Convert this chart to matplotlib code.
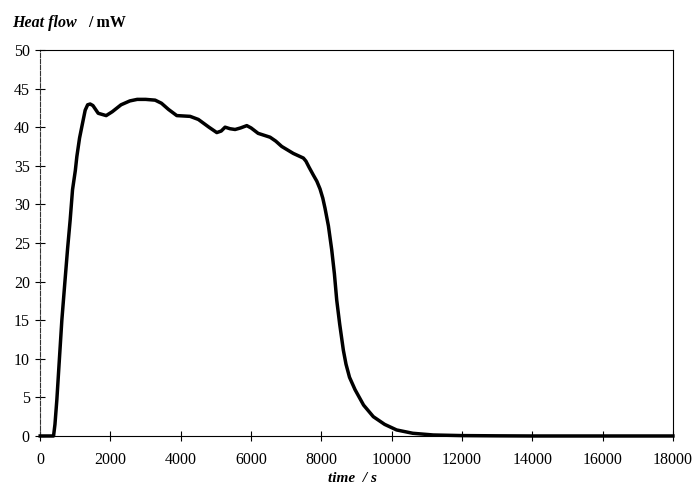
import matplotlib.pyplot as plt

# values
time_s = [0, 380, 420, 474, 540, 616, 700, 780, 853, 920, 1000, 1043, 1120, 1204, 1280,
          1350, 1422, 1500, 1650, 1877, 2050, 2300, 2550, 2760, 3000, 3270, 3450, 3650,
          3886, 4265, 4500, 4800, 5024, 5150, 5260, 5400, 5545, 5700, 5877, 6000, 6200,
          6540, 6700, 6872, 7200, 7487, 7560, 7650, 7770, 7870, 7961, 8040, 8103, 8200,
          8294, 8370, 8436, 8520, 8625, 8700, 8800, 8957, 9200, 9477, 9800, 10140, 10600,
          11180, 12000, 13000, 14000, 16000, 18000]
heat_mw = [0, 0, 1.5, 4.7, 9.5, 15.0, 19.8, 24.3, 28.0, 31.9, 34.4, 36.2, 38.6, 40.5, 42.2,
           42.9, 43.0, 42.8, 41.8, 41.5, 42.0, 42.9, 43.4, 43.6, 43.6, 43.5, 43.1, 42.3,
           41.5, 41.4, 41.0, 40.0, 39.3, 39.5, 40.0, 39.8, 39.7, 39.9, 40.2, 39.9, 39.2,
           38.7, 38.2, 37.5, 36.6, 36.0, 35.6, 34.8, 33.8, 33.0, 32.0, 30.8, 29.5, 27.2,
           24.1, 21.0, 17.6, 14.5, 11.1, 9.3, 7.6, 6.0, 4.0, 2.5, 1.5, 0.78, 0.35,
           0.13, 0.05, 0.02, 0.0, 0.0, 0.0]
xticks = list(range(0, 18001, 2000))
yticks = list(range(0, 51, 5))

plt.rcParams['font.family'] = ['Liberation Serif', 'DejaVu Serif']

fig = plt.figure(figsize=(6.93, 4.88), dpi=100)
ax = fig.add_axes([0.058, 0.1066, 0.913, 0.791])

ax.plot(time_s, heat_mw, color='black', lw=2.5, solid_joinstyle='round', clip_on=False, zorder=3)

ax.set_xlim(0, 18000)
ax.set_ylim(0, 50)
ax.set_xticks(xticks)
ax.set_yticks(yticks)
ax.tick_params(direction='inout', length=7, width=0.8, labelsize=11.5, pad=4)
ax.tick_params(axis='x', pad=8)
for s in ax.spines.values():
    s.set_linewidth(0.8)
ax.spines['left'].set_linestyle((0, (4, 1.5)))
ax.spines['left'].set_color('#333333')

fig.text(0.018, 0.945, 'Heat flow', fontsize=11.5, fontweight='bold', style='italic')
fig.text(0.127, 0.945, '/ mW', fontsize=11.5, fontweight='bold')
fig.text(0.474, 0.012, 'time  / s', fontsize=11, fontweight='bold', style='italic')

fig.savefig('out.png', dpi=100)
